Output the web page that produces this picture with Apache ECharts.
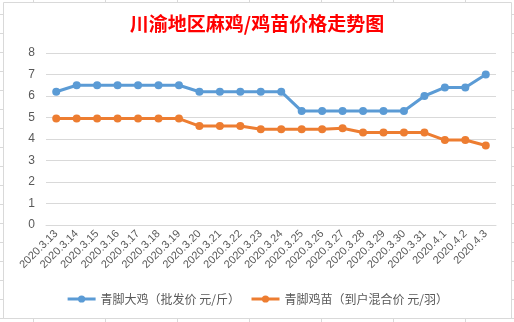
<!DOCTYPE html>
<html><head><meta charset="utf-8">
<script src="https://cdn.jsdelivr.net/npm/echarts@6/dist/echarts.min.js"></script>
<style>html,body{margin:0;padding:0;background:#fff}#c{width:514px;height:322px}</style>
</head><body><div id="c"></div>
<script>
const categories = ['2020.3.13','2020.3.14','2020.3.15','2020.3.16','2020.3.17','2020.3.18','2020.3.19','2020.3.20','2020.3.21','2020.3.22','2020.3.23','2020.3.24','2020.3.25','2020.3.26','2020.3.27','2020.3.28','2020.3.29','2020.3.30','2020.3.31','2020.4.1','2020.4.2','2020.4.3'];
const chickenPrice = [6.2,6.5,6.5,6.5,6.5,6.5,6.5,6.2,6.2,6.2,6.2,6.2,5.3,5.3,5.3,5.3,5.3,5.3,6.0,6.4,6.4,7.0];
const chickPrice = [4.95,4.95,4.95,4.95,4.95,4.95,4.95,4.6,4.6,4.6,4.45,4.45,4.45,4.45,4.5,4.3,4.3,4.3,4.3,3.95,3.95,3.7];
const seriesNames = ['青脚大鸡（批发价 元/斤）','青脚鸡苗（到户混合价 元/羽）'];
const titleText = '川渝地区麻鸡/鸡苗价格走势图';

const W = 514, H = 322;
const bg = [];
for (let y = 14; y < H; y += 19) bg.push({type:'line', shape:{x1:0,y1:y+0.5,x2:W,y2:y+0.5}, style:{stroke:'#d9d9d9',lineWidth:1}, silent:true});
for (let x = 33; x < W; x += 72) bg.push({type:'line', shape:{x1:x+0.5,y1:0,x2:x+0.5,y2:H}, style:{stroke:'#d9d9d9',lineWidth:1}, silent:true});
bg.push({type:'rect', shape:{x:3.5,y:2.5,width:508,height:316}, style:{fill:'#fff',stroke:'#d9d9d9',lineWidth:1}, silent:true});

const chart = echarts.init(document.getElementById('c'), null, {renderer:'canvas'});
const font = '"Noto Sans CJK SC", sans-serif';
chart.setOption({
  animation:false,
  graphic:{elements:bg},
  title:{text:titleText,left:'center',top:9,textStyle:{color:'#ff0000',fontSize:19,fontWeight:'bold',fontFamily:font}},
  grid:{left:46,right:18,top:53,bottom:97,containLabel:false},
  legend:{bottom:12,left:'center',itemWidth:28,itemHeight:9,itemGap:10,
    lineStyle:{width:3},
    textStyle:{color:'#595959',fontSize:12,fontFamily:font},
    data:seriesNames},
  xAxis:{type:'category',data:categories,boundaryGap:true,
    axisLine:{lineStyle:{color:'#d9d9d9'}},axisTick:{show:false},
    axisLabel:{rotate:45,interval:0,color:'#595959',fontSize:11,margin:7,fontFamily:'"Liberation Sans", sans-serif'}},
  yAxis:{type:'value',min:0,max:8,interval:1,
    axisLine:{show:false},axisTick:{show:false},
    splitLine:{lineStyle:{color:'#d9d9d9'}},
    axisLabel:{color:'#595959',fontSize:12,margin:11,fontFamily:'"Liberation Sans", sans-serif'}},
  series:[
    {name:seriesNames[0],type:'line',data:chickenPrice,symbol:'circle',symbolSize:8,
     itemStyle:{color:'#5b9bd5'},lineStyle:{color:'#5b9bd5',width:3}},
    {name:seriesNames[1],type:'line',data:chickPrice,symbol:'circle',symbolSize:8,
     itemStyle:{color:'#ed7d31'},lineStyle:{color:'#ed7d31',width:3}}
  ]
});
</script></body></html>
